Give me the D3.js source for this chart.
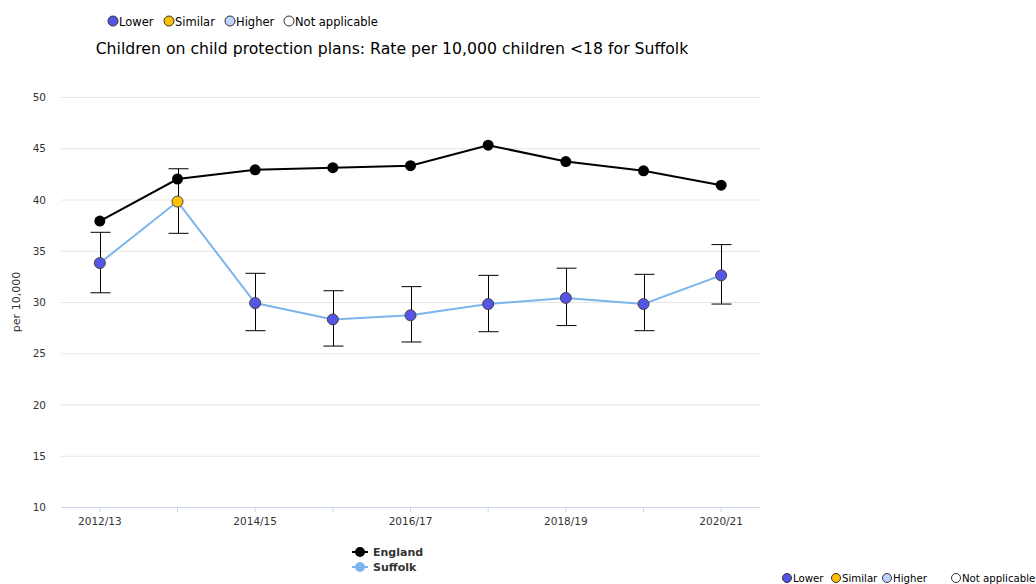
<!DOCTYPE html>
<html>
<head>
<meta charset="utf-8">
<script src="https://cdn.jsdelivr.net/npm/d3@7"></script>
<style>
  html, body { margin: 0; padding: 0; background: #fff; }
  svg { display: block; }
  text { font-family: "DejaVu Sans", sans-serif; }
</style>
</head>
<body>
<svg id="chart" width="1036" height="584"></svg>
<script>
const categories = ["2012/13","2013/14","2014/15","2015/16","2016/17","2017/18","2018/19","2019/20","2020/21"];
const tickLabels = ["2012/13","2014/15","2016/17","2018/19","2020/21"];
const england = [37.9, 42.0, 42.9, 43.1, 43.3, 45.3, 43.7, 42.8, 41.4];
const suffolk = [33.8, 39.8, 29.9, 28.3, 28.7, 29.8, 30.4, 29.8, 32.6];
const suffolkLower = [30.9, 36.7, 27.2, 25.7, 26.1, 27.1, 27.7, 27.2, 29.8];
const suffolkUpper = [36.8, 43.0, 32.8, 31.1, 31.5, 32.6, 33.3, 32.7, 35.6];
const suffolkCompare = ["Lower","Similar","Lower","Lower","Lower","Lower","Lower","Lower","Lower"];
const yTicks = [10, 15, 20, 25, 30, 35, 40, 45, 50];
const legendItems = ["Lower","Similar","Higher","Not applicable"];
const legendColors = {"Lower":"#5555E6","Similar":"#FFC000","Higher":"#BED2FF","Not applicable":"#FFFFFF"};

const svg = d3.select("#chart");
const pLeft = 61, pRight = 760, pTop = 97, pBottom = 507;

const x = d3.scaleBand().domain(categories).range([pLeft, pRight]);
const y = d3.scaleLinear().domain([10, 50]).range([pBottom, pTop]);
const cx = c => x(c) + x.bandwidth() / 2;

// gridlines
svg.append("g").selectAll("line").data(yTicks.slice(1)).join("line")
  .attr("x1", pLeft).attr("x2", pRight)
  .attr("y1", d => y(d) + 0.5).attr("y2", d => y(d) + 0.5)
  .attr("stroke", "#e6e6e6").attr("stroke-width", 1);

// y axis labels
const yAxis = d3.axisLeft(y).tickValues(yTicks).tickSize(0).tickPadding(0).tickFormat(d3.format("d"));
const yg = svg.append("g").attr("transform", `translate(${46},0)`).call(yAxis);
yg.select(".domain").remove();
yg.selectAll("text").attr("font-size", 10.5).attr("fill", "#333").attr("font-family", "DejaVu Sans, sans-serif").attr("dy", "0.35em");

// x axis
const xAxis = d3.axisBottom(x).tickSize(5).tickPadding(6)
  .tickFormat(d => tickLabels.includes(d) ? d : "");
const xg = svg.append("g").attr("transform", `translate(0,${pBottom})`).call(xAxis);
xg.select(".domain").attr("stroke", "#ccd6eb").attr("d", `M${pLeft},0.5H${pRight}`);
xg.selectAll(".tick line").attr("stroke", "#ccd6eb");
xg.selectAll("text").attr("font-size", 10.5).attr("fill", "#333").attr("font-family", "DejaVu Sans, sans-serif");

// y axis title
svg.append("text").attr("transform", `translate(20,${(pTop + pBottom) / 2}) rotate(-90)`)
  .attr("text-anchor", "middle").attr("font-size", 11).attr("fill", "#333").text("per 10,000");

// title
svg.append("text").attr("x", 392).attr("y", 54).attr("text-anchor", "middle")
  .attr("font-size", 15.7).attr("fill", "#000")
  .text("Children on child protection plans: Rate per 10,000 children <18 for Suffolk");

// top legend
const tl = svg.append("g");
const tlPos = [107, 163, 224, 283];
legendItems.forEach((k, i) => {
  const g = tl.append("g").attr("transform", `translate(${tlPos[i]},21)`);
  g.append("circle").attr("cx", 6).attr("cy", 0).attr("r", 5)
    .attr("fill", legendColors[k]).attr("stroke", "#333").attr("stroke-width", 1);
  g.append("text").attr("x", 12).attr("y", 4.5).attr("font-size", 11.5).attr("fill", "#000").text(k);
});

// lines
const line = d3.line().x((d, i) => cx(categories[i])).y(d => y(d));
svg.append("path").datum(england).attr("d", line).attr("fill", "none")
  .attr("stroke", "#000").attr("stroke-width", 2);
svg.append("path").datum(suffolk).attr("d", line).attr("fill", "none")
  .attr("stroke", "#7CB5EC").attr("stroke-width", 2);

// error bars
const eb = svg.append("g");
categories.forEach((c, i) => {
  const xc = Math.round(cx(c)) + 0.5;
  eb.append("path")
    .attr("d", `M${xc},${y(suffolkUpper[i])}V${y(suffolkLower[i])}M${xc - 10},${y(suffolkUpper[i])}H${xc + 10}M${xc - 10},${y(suffolkLower[i])}H${xc + 10}`)
    .attr("stroke", "#000").attr("stroke-width", 1).attr("fill", "none");
});

// England markers
svg.append("g").selectAll("circle").data(england).join("circle")
  .attr("cx", (d, i) => cx(categories[i])).attr("cy", d => y(d)).attr("r", 5.5)
  .attr("fill", "#000");

// Suffolk markers
svg.append("g").selectAll("circle").data(suffolk).join("circle")
  .attr("cx", (d, i) => cx(categories[i])).attr("cy", d => y(d)).attr("r", 5.5)
  .attr("fill", (d, i) => legendColors[suffolkCompare[i]])
  .attr("stroke", "#444").attr("stroke-width", 1);

// bottom series legend
const sl = svg.append("g");
[["England", "#000", "#000"], ["Suffolk", "#7CB5EC", "#7CB5EC"]].forEach((s, i) => {
  const yy = 552 + i * 15;
  sl.append("line").attr("x1", 352).attr("x2", 368).attr("y1", yy).attr("y2", yy)
    .attr("stroke", s[1]).attr("stroke-width", 2);
  sl.append("circle").attr("cx", 360).attr("cy", yy).attr("r", 5).attr("fill", s[2]);
  sl.append("text").attr("x", 373).attr("y", yy + 4).attr("font-size", 11).attr("font-weight", "bold")
    .attr("fill", "#333").text(s[0]);
});

// bottom-right legend
const brPos = [787, 836, 887, 956];
legendItems.forEach((k, i) => {
  const g = svg.append("g").attr("transform", `translate(${brPos[i]},578)`);
  g.append("circle").attr("cx", 0).attr("cy", 0).attr("r", 4.5)
    .attr("fill", legendColors[k]).attr("stroke", "#333").attr("stroke-width", 1);
  g.append("text").attr("x", 6).attr("y", 3.8).attr("font-size", 10.2)
    .attr("font-family", "Liberation Sans, Arial, sans-serif").attr("fill", "#000").text(k);
});
</script>
</body>
</html>
